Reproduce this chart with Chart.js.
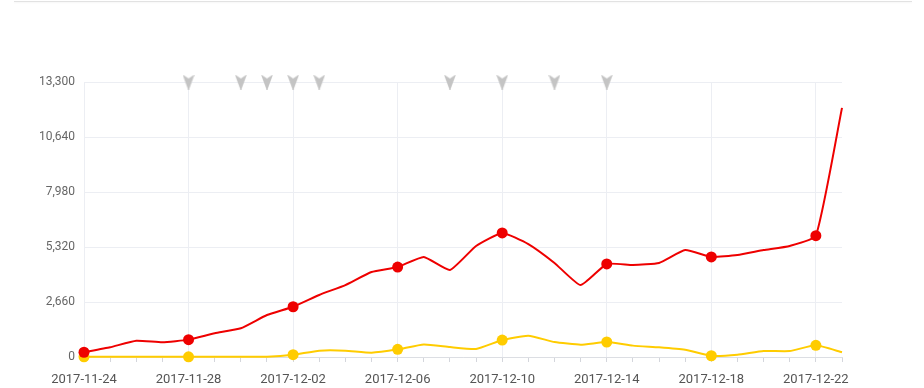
<!DOCTYPE html>
<html>
<head>
<meta charset="utf-8">
<script src="https://cdn.jsdelivr.net/npm/chart.js@4/dist/chart.umd.min.js"></script>
<style>
    html, body { margin: 0; padding: 0; background: #fff; }
    body { width: 924px; height: 388px; position: relative; overflow: hidden; }
    .topline { position: absolute; left: 14px; top: 1px; width: 898px; height: 1px; background: #e2e2e2; box-shadow: 0 1px 2px rgba(0,0,0,0.05); }
    #chartWrap { position: absolute; left: 0; top: 0; width: 924px; height: 388px; }
</style>
</head>
<body>
<div class="topline"></div>
<div id="chartWrap"><canvas id="trendChart"></canvas></div>
<script>
// Dates on the x axis
const dates = [
    '2017-11-24', '2017-11-25', '2017-11-26', '2017-11-27', '2017-11-28', '2017-11-29', '2017-11-30',
    '2017-12-01', '2017-12-02', '2017-12-03', '2017-12-04', '2017-12-05', '2017-12-06', '2017-12-07',
    '2017-12-08', '2017-12-09', '2017-12-10', '2017-12-11', '2017-12-12', '2017-12-13', '2017-12-14',
    '2017-12-15', '2017-12-16', '2017-12-17', '2017-12-18', '2017-12-19', '2017-12-20', '2017-12-21',
    '2017-12-22', '2017-12-23'
];

// Red series
const redValues = [
    230, 470, 790, 710, 840, 1150, 1390, 2030, 2430, 3000,
    3480, 4110, 4350, 4840, 4210, 5370, 6000, 5460, 4550, 3480,
    4500, 4450, 4550, 5170, 4840, 4930, 5170, 5370, 5870, 12050
];

// Yellow series
const yellowValues = [
    10, 10, 10, 10, 10, 10, 10, 15, 110, 305,
    305, 210, 370, 610, 480, 390, 820, 1030, 725, 595,
    725, 550, 470, 350, 60, 110, 290, 290, 565, 230
];

// Event markers shown along the top
const eventDates = [
    '2017-11-28', '2017-11-30', '2017-12-01', '2017-12-02', '2017-12-03',
    '2017-12-08', '2017-12-10', '2017-12-12', '2017-12-14'
];

// Y axis ticks
const yMax = 13300;
const yStep = 2660;

const gridColor = '#eceef3';

// Arrow-shaped marker for the event pins
function makeArrow() {
    const c = document.createElement('canvas');
    c.width = 12;
    c.height = 15;
    const ctx = c.getContext('2d');
    ctx.fillStyle = '#c4c4c4';
    ctx.beginPath();
    ctx.moveTo(0, 0);
    ctx.lineTo(6, 4);
    ctx.lineTo(12, 0);
    ctx.lineTo(6.5, 15);
    ctx.lineTo(5.5, 15);
    ctx.closePath();
    ctx.fill();
    return c;
}

const everyFourth = ctx => (ctx.dataIndex % 4 === 0 ? 5.5 : 0);

new Chart(document.getElementById('trendChart'), {
    type: 'line',
    data: {
        labels: dates,
        datasets: [
            {
                label: 'events',
                data: dates.map(d => (eventDates.includes(d) ? yMax : null)),
                showLine: false,
                pointStyle: makeArrow(),
                pointRadius: 7,
                pointHoverRadius: 7,
                clip: false
            },
            {
                label: 'red',
                data: redValues,
                borderColor: '#ee0000',
                backgroundColor: '#ee0000',
                borderWidth: 2,
                tension: 0.15,
                pointRadius: everyFourth,
                pointHoverRadius: everyFourth,
                pointBorderWidth: 0,
                clip: false
            },
            {
                label: 'yellow',
                data: yellowValues,
                borderColor: '#ffcc00',
                backgroundColor: '#ffcc00',
                borderWidth: 2,
                tension: 0.15,
                pointRadius: everyFourth,
                pointHoverRadius: everyFourth,
                pointBorderWidth: 0,
                clip: false
            }
        ]
    },
    options: {
        responsive: true,
        maintainAspectRatio: false,
        animation: false,
        layout: {
            padding: { left: 0, right: 82, top: 82, bottom: 0 }
        },
        plugins: {
            legend: { display: false },
            tooltip: { enabled: false }
        },
        scales: {
            x: {
                grid: {
                    color: ctx => (ctx.index % 4 === 0 ? gridColor : 'rgba(0,0,0,0)'),
                    tickColor: '#d4d6dc',
                    tickLength: 5,
                    offset: false
                },
                border: { color: '#dcdee3' },
                ticks: {
                    autoSkip: false,
                    maxRotation: 0,
                    padding: 10,
                    color: '#555',
                    font: { family: 'Roboto', size: 13 },
                    callback: function(value, index) {
                        return index % 4 === 0 ? dates[index] : '';
                    }
                },
                afterFit: scale => { scale.height = 31; }
            },
            y: {
                min: 0,
                max: yMax,
                grid: { color: gridColor, drawTicks: false },
                border: { display: false },
                ticks: {
                    stepSize: yStep,
                    padding: 9,
                    color: '#666',
                    font: { family: 'Roboto', size: 12 },
                    callback: v => v.toLocaleString('en-US')
                },
                afterFit: scale => { scale.width = 84; }
            }
        }
    }
});
</script>
</body>
</html>
